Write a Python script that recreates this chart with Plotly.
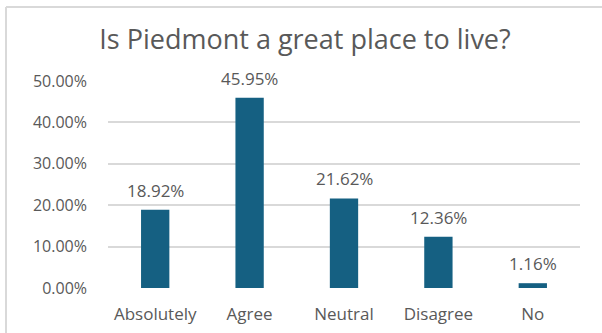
import plotly.graph_objects as go

# Survey responses: "Is Piedmont a great place to live?"
categories = ["Absolutely", "Agree", "Neutral", "Disagree", "No"]
shares = [0.1892, 0.4595, 0.2162, 0.1236, 0.0116]
y_ticks = [0.0, 0.1, 0.2, 0.3, 0.4, 0.5]

BAR_COLOR = "#156082"
TEXT_COLOR = "#595959"
GRID_COLOR = "#D9D9D9"
FONT = "Open Sans"

W, H = 602, 333
L, R, T, B = 108, 22, 81, 45

fig = go.Figure(
    go.Bar(
        x=categories,
        y=shares,
        marker=dict(color=BAR_COLOR, line=dict(width=0)),
        hoverinfo="skip",
    )
)

# value labels above each bar
for cat, val in zip(categories, shares):
    fig.add_annotation(
        x=cat, y=val, text=f"{val * 100:.2f}%",
        showarrow=False, yanchor="bottom", yshift=6,
        font=dict(family=FONT, size=17, color=TEXT_COLOR),
    )

# light frame along the top and left of the chart area
plot_w = W - L - R
plot_h = H - T - B
px = lambda x: (x - L) / plot_w
py = lambda y: 1 + (T - y) / plot_h
frame = dict(color=GRID_COLOR, width=2)
fig.add_shape(type="line", xref="paper", yref="paper",
              x0=px(6), x1=px(W + 5), y0=py(7), y1=py(7), line=frame)
fig.add_shape(type="line", xref="paper", yref="paper",
              x0=px(6), x1=px(6), y0=py(7), y1=py(H + 5), line=frame)

fig.update_layout(
    width=W, height=H,
    margin=dict(l=L, r=R, t=T, b=B),
    paper_bgcolor="white", plot_bgcolor="white",
    bargap=0.70,
    showlegend=False,
    title=dict(
        text="Is Piedmont a great place to live?",
        x=305 / W, xanchor="center",
        y=1 - 40 / H, yanchor="middle",
        font=dict(family=FONT, size=27, color=TEXT_COLOR),
    ),
    xaxis=dict(
        showgrid=False, showline=False, zeroline=False,
        ticks="", ticklabelstandoff=14, automargin=False,
        tickfont=dict(family=FONT, size=17, color=TEXT_COLOR),
    ),
    yaxis=dict(
        range=[0, 0.5], tickvals=y_ticks, tickformat=".2%",
        showgrid=True, gridcolor=GRID_COLOR, gridwidth=1.5,
        zeroline=False, showline=False, ticks="",
        ticklabelstandoff=20, automargin=False,
        tickfont=dict(family=FONT, size=16, color=TEXT_COLOR),
    ),
)

fig.write_html("out.html")
